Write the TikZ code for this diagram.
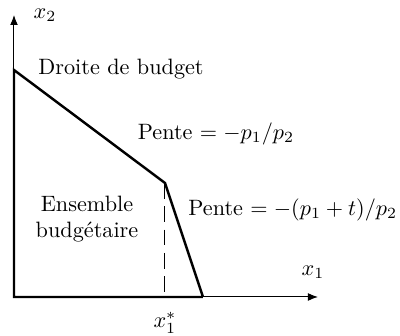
\documentclass[tikz,border=0pt]{standalone}
\usetikzlibrary{arrows.meta}
\begin{document}
\begin{tikzpicture}[x=0.45pt,y=-0.45pt,
  thickline/.style={line width=1.1pt},
  axis/.style={line width=0.45pt,-{Latex[length=4.5pt,width=3.5pt]}},
  lbl/.style={inner sep=0pt}]
\useasboundingbox (0,0) rectangle (400,336);
\coordinate (O) at (14,297);
\coordinate (Y0) at (14,70);
\coordinate (K) at (165,183);
\coordinate (X0) at (203,297);
\coordinate (Xend) at (318,297);
\coordinate (Yend) at (14,15);
\coordinate (D) at (165,297);
\draw[axis] (O) -- (Xend);
\draw[axis] (O) -- (Yend);
\draw[thickline] (X0) -- (O) -- (Y0) -- (K) -- (X0);
\draw[line width=0.45pt,dash pattern=on 7pt off 3.5pt] (K) -- (D);
\node[lbl] (x2) at (45,15) {$x_2$};
\node[lbl,anchor=west] (db) at (38,69) {Droite de budget};
\node[lbl] (p1) at (216,134) {Pente $= -p_1/p_2$};
\node[lbl,align=center] (eb) at (87,219) {Ensemble\\budg\'etaire};
\node[lbl,anchor=west] (p2) at (188,210) {Pente $= -(p_1+t)/p_2$};
\node[lbl] (x1) at (313,272) {$x_1$};
\node[lbl] (xs) at (165,323) {$x_1^*$};
\end{tikzpicture}
\end{document}
